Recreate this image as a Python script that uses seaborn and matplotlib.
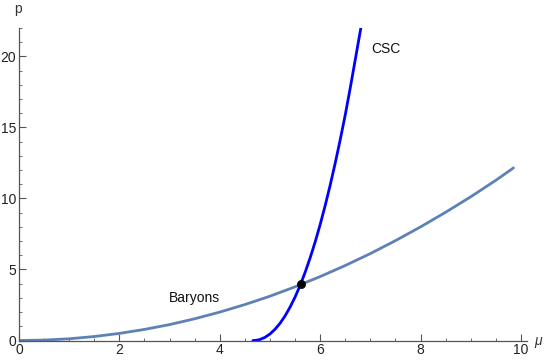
import matplotlib
matplotlib.use("Agg")
import matplotlib.pyplot as plt
import seaborn as sns
import pandas as pd
from matplotlib.ticker import MultipleLocator

# Baryons curve
mu_baryons = [0.0, 0.5, 1.0, 1.5, 2.0, 2.5, 3.0, 3.5, 4.0, 4.5, 5.0, 5.5, 6.0,
              6.5, 7.0, 7.5, 8.0, 8.5, 9.0, 9.5, 9.85]
p_baryons = [0.0, 0.03, 0.12, 0.28, 0.5, 0.78, 1.12, 1.53, 2.0, 2.53, 3.12, 3.78,
             4.5, 5.28, 6.12, 7.03, 8.0, 9.03, 10.12, 11.28, 12.15]

# CSC curve
mu_csc = [4.66, 4.70, 4.75, 4.80, 4.90, 5.00, 5.10, 5.20, 5.30, 5.40, 5.50, 5.60,
          5.70, 5.80, 5.90, 6.00, 6.10, 6.20, 6.30, 6.40, 6.50, 6.60, 6.70, 6.81]
p_csc = [0.0, 0.005, 0.03, 0.07, 0.22, 0.46, 0.79, 1.21, 1.73, 2.35, 3.06, 3.88,
         4.80, 5.82, 6.94, 8.17, 9.51, 10.95, 12.5, 14.15, 15.9, 17.8, 19.8, 22.0]

# intersection point
mu_cross = [5.61]
p_cross = [3.97]

labels = {"x": "μ", "y": "p", "csc": "CSC", "baryons": "Baryons"}

sns.set_style("white")
plt.rcParams['font.family'] = ['Liberation Sans', 'DejaVu Sans']

fig = plt.figure(figsize=(5.45, 3.61), dpi=100)
ax = fig.add_axes([19/545, 20.5/361, 508/545, 312.5/361])

df_b = pd.DataFrame({"mu": mu_baryons, "p": p_baryons})
df_c = pd.DataFrame({"mu": mu_csc, "p": p_csc})
sns.lineplot(data=df_b, x="mu", y="p", ax=ax, color="#5E81B5", linewidth=2.0, sort=False)
sns.lineplot(data=df_c, x="mu", y="p", ax=ax, color="#0000FF", linewidth=2.0, sort=False)
sns.scatterplot(x=mu_cross, y=p_cross, ax=ax, color="black", s=35, zorder=5, edgecolor="black")

ax.set_xlim(0, 10.12)
ax.set_ylim(0, 22)
ax.set_xlabel("")
ax.set_ylabel("")

for s in ["top", "right"]:
    ax.spines[s].set_visible(False)
for s in ["left", "bottom"]:
    ax.spines[s].set_color("#555555")
    ax.spines[s].set_linewidth(0.9)

ax.xaxis.set_major_locator(MultipleLocator(2))
ax.xaxis.set_minor_locator(MultipleLocator(0.5))
ax.yaxis.set_major_locator(MultipleLocator(5))
ax.yaxis.set_minor_locator(MultipleLocator(1))
ax.tick_params(which="major", direction="in", length=5, width=0.8, color="#555555",
               labelsize=10, labelcolor="#222222", pad=2)
ax.tick_params(which="minor", direction="in", length=2.5, width=0.6, color="#555555")
ax.tick_params(axis="x", which="both", bottom=True)
ax.tick_params(axis="y", which="both", left=True)

ax.text(7.02, 20.5, labels["csc"], fontsize=10, color="#111111", ha="left", va="center")
ax.text(3.5, 3.0, labels["baryons"], fontsize=10, color="#111111", ha="center", va="center")
fig.text(18/545, 1 - 9/361, labels["y"], fontsize=10, color="#333333", ha="center", va="center")
fig.text(538/545, 1 - 341/361, labels["x"], fontsize=10, color="#333333", ha="center",
         va="center", style="italic")

fig.savefig("out.png", dpi=100)
